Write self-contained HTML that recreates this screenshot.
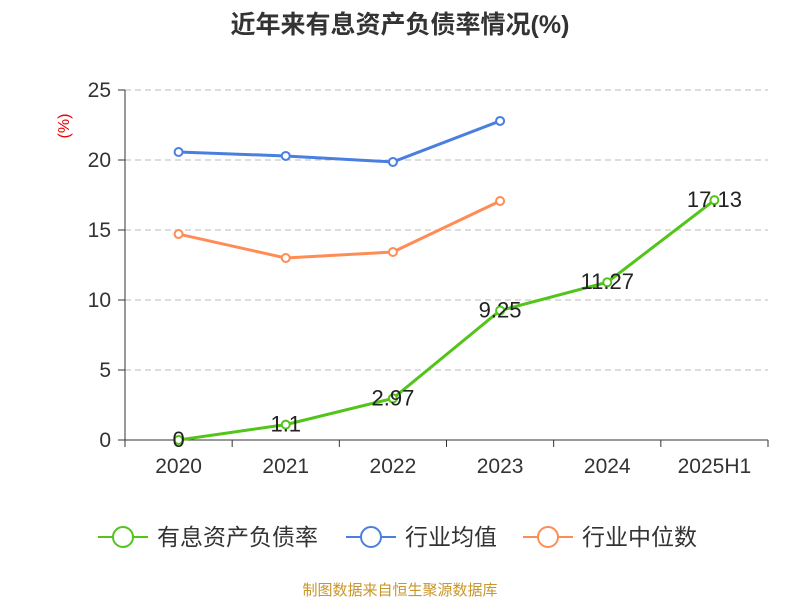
<!DOCTYPE html>
<html><head><meta charset="utf-8"><style>
body{margin:0;background:#fff;}
svg{display:block;font-family:"Liberation Sans","Noto Sans CJK SC",sans-serif;}
</style></head><body>
<svg id="c" width="800" height="600" xmlns="http://www.w3.org/2000/svg">
<text x="400" y="33" text-anchor="middle" font-size="25" font-weight="bold" fill="#333">近年来有息资产负债率情况(%)</text>
<text x="0" y="0" transform="translate(69,126) rotate(-90)" text-anchor="middle" font-size="16" fill="#e00">(%)</text>
<g id="grid"></g><g id="axes"></g><g id="series"></g>
<g>
<g><line x1="98" y1="537" x2="148" y2="537" stroke="#52c41a" stroke-width="2"/><circle cx="123" cy="537" r="10" fill="#fff" stroke="#52c41a" stroke-width="2"/><text x="157" y="545" font-size="23" fill="#333">有息资产负债率</text></g>
<g><line x1="346" y1="537" x2="396" y2="537" stroke="#4a7fe0" stroke-width="2"/><circle cx="371" cy="537" r="10" fill="#fff" stroke="#4a7fe0" stroke-width="2"/><text x="405" y="545" font-size="23" fill="#333">行业均值</text></g>
<g><line x1="523" y1="537" x2="573" y2="537" stroke="#ff8c55" stroke-width="2"/><circle cx="548" cy="537" r="10" fill="#fff" stroke="#ff8c55" stroke-width="2"/><text x="582" y="545" font-size="23" fill="#333">行业中位数</text></g>
</g>
<text x="400" y="595" text-anchor="middle" font-size="15" fill="#c8962a">制图数据来自恒生聚源数据库</text>
</svg>
<script>
const categories=["2020","2021","2022","2023","2024","2025H1"];
const debtRatio=[0,1.1,2.97,9.25,11.27,17.13];
const debtLabels=["0","1.1","2.97","9.25","11.27","17.13"];
const industryMean=[20.57,20.29,19.86,22.79];
const industryMedian=[14.71,13.0,13.43,17.07];
const yTicks=[0,5,10,15,20,25];
const NS="http://www.w3.org/2000/svg";
const x0=125,x1=768,yBase=440,yTop=90,yMax=25;
const bw=(x1-x0)/categories.length;
const xs=i=>x0+bw*(i+0.5);
const ys=v=>yBase-(v/yMax)*(yBase-yTop);
function mk(tag,attrs,parent){const e=document.createElementNS(NS,tag);for(const k in attrs)e.setAttribute(k,attrs[k]);parent.appendChild(e);return e;}
const grid=document.getElementById('grid'),axes=document.getElementById('axes'),ser=document.getElementById('series');
yTicks.forEach(t=>{
 if(t>0){const l=mk('line',{x1:x0,x2:x1,y1:ys(t),y2:ys(t),stroke:'#bbb','stroke-dasharray':'6,4'},grid);
 
 }
 const tk=mk('line',{x1:x0-7,x2:x0,y1:ys(t),y2:ys(t),stroke:'#333'},axes);
 
 
 const tx=mk('text',{x:x0-14,y:ys(t)+7,'text-anchor':'end','font-size':21,fill:'#333'},axes);tx.textContent=t;
 
 
});
const ya=mk('line',{x1:x0,x2:x0,y1:yTop,y2:yBase,stroke:'#333'},axes);


const xa=mk('line',{x1:x0,x2:x1,y1:yBase,y2:yBase,stroke:'#333'},axes);


for(let i=0;i<=categories.length;i++){const tk=mk('line',{x1:x0+bw*i,x2:x0+bw*i,y1:yBase,y2:yBase+7,stroke:'#333'},axes);
 
 }
categories.forEach((c,i)=>{const t=mk('text',{x:xs(i),y:yBase+33,'text-anchor':'middle','font-size':21,fill:'#333'},axes);t.textContent=c;
 
 });
function series(vals,color,name){
 const g=mk('g',{},ser);
 
 
 const p=mk('polyline',{points:vals.map((v,i)=>xs(i)+','+ys(v)).join(' '),fill:'none',stroke:color,'stroke-width':3},g);
 
 
 vals.forEach((v,i)=>{const c=mk('circle',{cx:xs(i),cy:ys(v),r:4,fill:'#fff',stroke:color,'stroke-width':2},g);
  
  });
 return g;
}
series(industryMean,'#4a7fe0','industry-mean');
series(industryMedian,'#ff8c55','industry-median');
const dg=series(debtRatio,'#52c41a','debt-ratio');
debtRatio.forEach((v,i)=>{const t=mk('text',{x:xs(i),y:ys(v)+7,'text-anchor':'middle','font-size':22,fill:'#222'},dg);t.textContent=debtLabels[i];
 
 });
</script>
</body></html>
